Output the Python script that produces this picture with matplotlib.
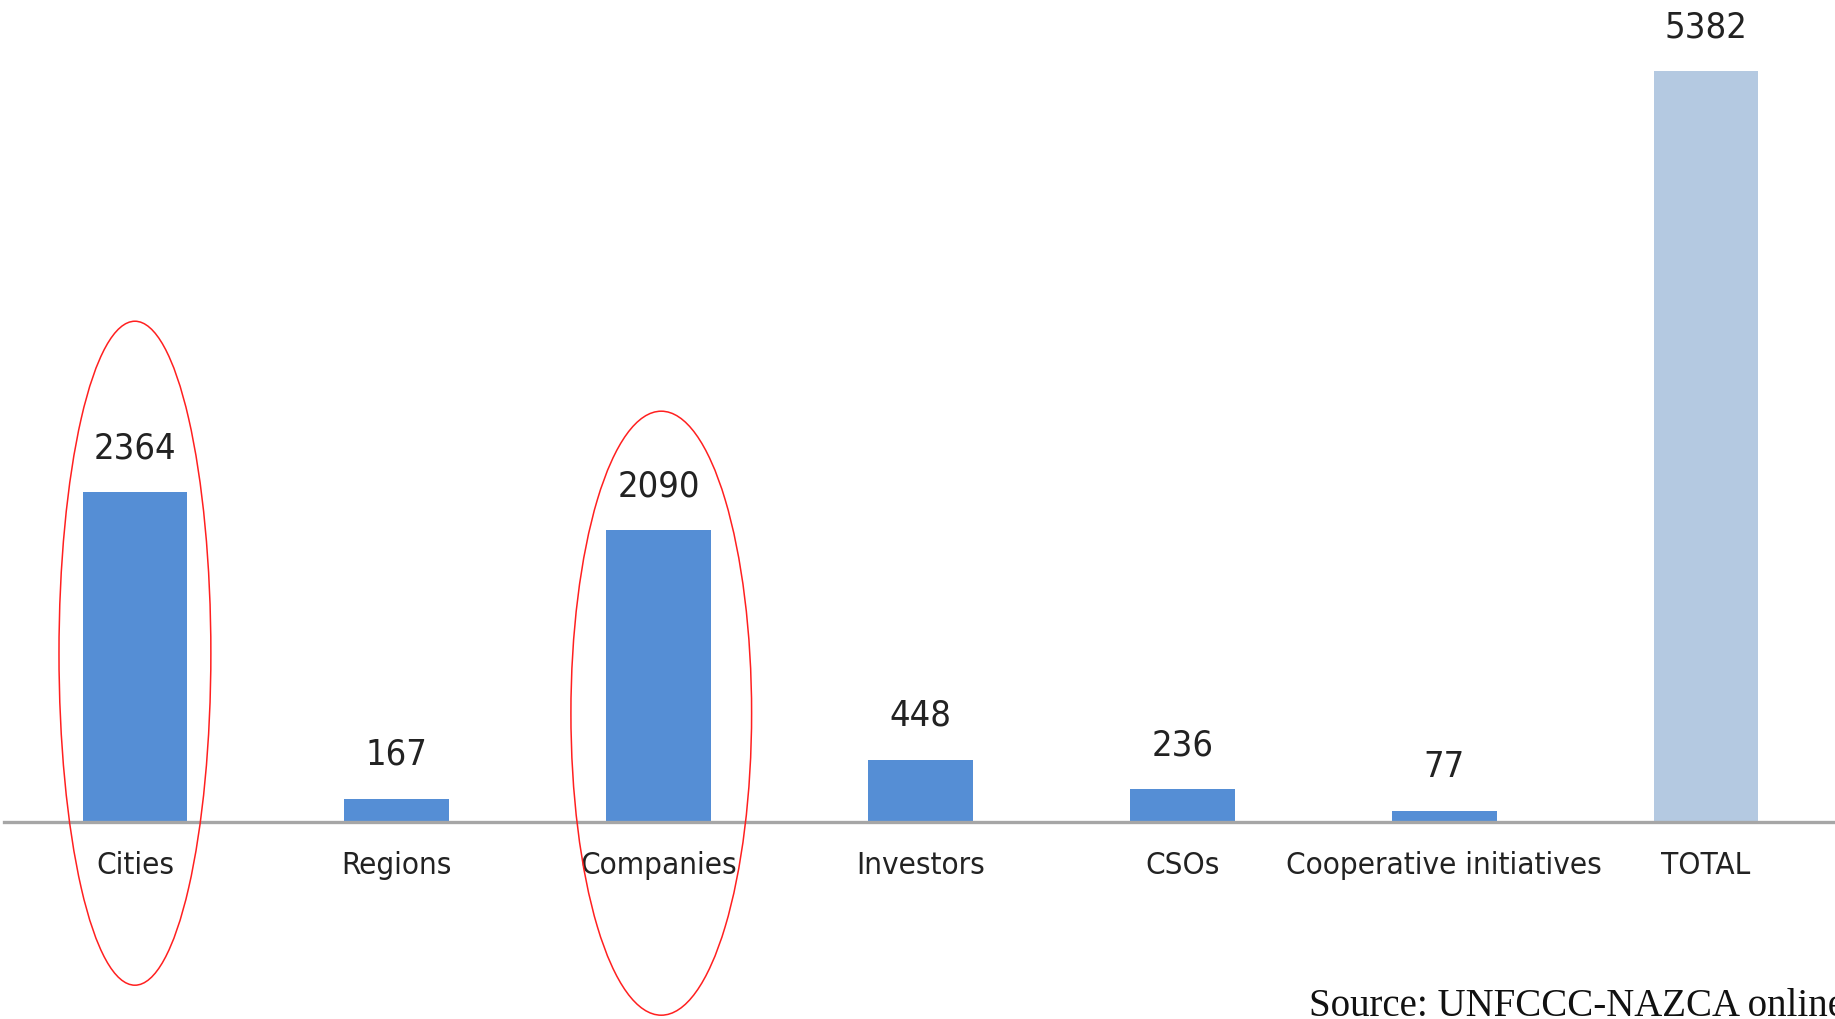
import matplotlib.pyplot as plt
from matplotlib.patches import Ellipse

categories = ['Cities', 'Regions', 'Companies', 'Investors', 'CSOs',
              'Cooperative initiatives', 'TOTAL']
counts = [2364, 167, 2090, 448, 236, 77, 5382]
highlighted = ['Cities', 'Companies']
source_note = 'Source: UNFCCC-NAZCA online'

label_font = dict(family='DejaVu Sans', fontstretch='condensed', color='#222222')
bar_color = '#558ED5'
total_color = '#B4C9E1'

fig = plt.figure(figsize=(18.35, 10.2), dpi=100)
ax = fig.add_axes([4 / 1835, 197 / 1020, 1833 / 1835, 823 / 1020])

x = list(range(len(categories)))
colors = [total_color if c == 'TOTAL' else bar_color for c in categories]
bars = ax.bar(x, counts, width=0.4, color=colors, zorder=2)

for b, v in zip(bars, counts):
    ax.annotate(str(v), (b.get_x() + b.get_width() / 2, v),
                xytext=(0, 20), textcoords='offset points',
                ha='center', va='bottom', fontsize=26, **label_font)

ax.set_xlim(-0.5, len(categories) - 0.5)
ax.set_ylim(0, 5900)
ax.set_xticks(x)
ax.set_xticklabels(categories, fontsize=22.5, **label_font)
ax.tick_params(axis='x', length=0, pad=20)
ax.set_yticks([])
for s in ['top', 'right', 'left']:
    ax.spines[s].set_visible(False)
ax.spines['bottom'].set_color('#A6A6A6')
ax.spines['bottom'].set_linewidth(2.4)

# red rings around the two largest groups
ring_sizes = {'Cities': (0.0, 0.58, 1210, 4760), 'Companies': (0.01, 0.69, 780, 4330)}
for name in highlighted:
    i = categories.index(name)
    dx, w, cy, h = ring_sizes[name]
    ax.add_patch(Ellipse((i + dx, cy), w, h, fill=False, edgecolor='#FF2020',
                         linewidth=1.1, clip_on=False, zorder=3))

# source line runs off the right edge of the page
fig.text(1309 / 1835, 4 / 1020, source_note, fontsize=28,
         family='Liberation Serif', color='#111111', ha='left', va='baseline')

fig.savefig('out.png', dpi=100)
